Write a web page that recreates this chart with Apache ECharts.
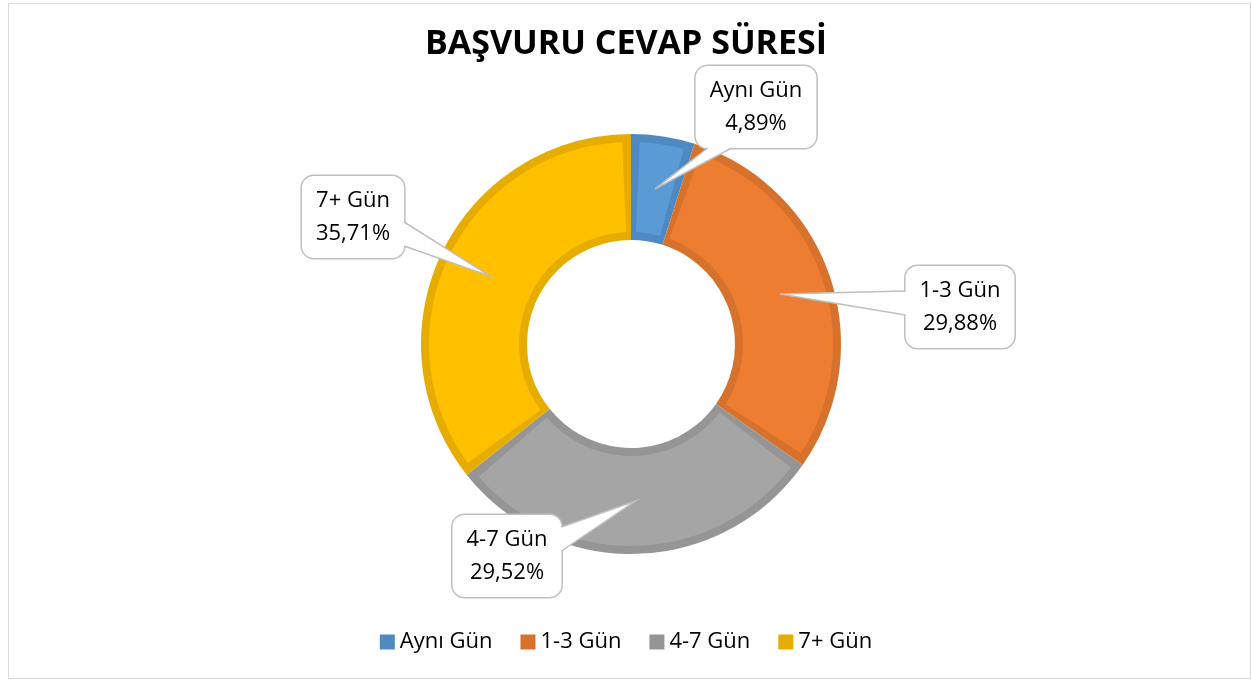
<!DOCTYPE html>
<html>
<head>
<meta charset="utf-8">
<script src="https://cdn.jsdelivr.net/npm/echarts@6/dist/echarts.min.js"></script>
<style>
html, body { margin: 0; padding: 0; background: #fff; }
#chart { width: 1252px; height: 680px; }
</style>
</head>
<body>
<div id="chart"></div>
<script>
// başvuru cevap süresi dağılımı (%)
var categories = ['Aynı Gün', '1-3 Gün', '4-7 Gün', '7+ Gün'];
var shares = [4.89, 29.88, 29.52, 35.71];

var fillColors = ['#5B9BD5', '#ED7D31', '#A5A5A5', '#FFC000'];
var edgeColors = ['#4F89C2', '#D6722C', '#959595', '#E6AD00'];
// callout kutularının merkezleri
var calloutSpots = [[756, 107], [960, 307], [507, 556], [353, 217]];

var chart = echarts.init(document.getElementById('chart'), null, {renderer: 'canvas'});
var FONT = 'Open Sans';
var CX = 631, CY = 344, R_IN = 104, R_OUT = 210;
var LABEL_SIZE = 22, LINE_H = 33, PAD_T = 10, PAD_B = 6, PAD_H = 14;

function pct(v) {
    return v.toFixed(2).replace('.', ',') + '%';
}

// yazı genişliği ölçümü (callout kutusunun boyutu için)
var ctx = document.createElement('canvas').getContext('2d');
ctx.font = LABEL_SIZE + 'px "' + FONT + '"';
function boxSize(i) {
    var w = Math.max(ctx.measureText(categories[i]).width, ctx.measureText(pct(shares[i])).width);
    return [w + PAD_H * 2, LINE_H * 2 + PAD_T + PAD_B];
}

// dilim ortası: halkanın ortasında, orta açıda
var total = shares.reduce(function (a, b) { return a + b; }, 0);
function tipOf(i) {
    var cum = 0;
    for (var k = 0; k < i; k++) cum += shares[k];
    var a = (cum + shares[i] / 2) / total * Math.PI * 2;
    var r = (R_IN + R_OUT) / 2;
    return [CX + r * Math.sin(a), CY - r * Math.cos(a)];
}

function clamp(v, lo, hi) { return Math.max(lo, Math.min(hi, v)); }

// callout ucu (üçgen)
var wedges = [];
for (var i = 0; i < categories.length; i++) {
    var c = calloutSpots[i], tip = tipOf(i), sz = boxSize(i);
    var hw = sz[0] / 2, hh = sz[1] / 2, half = 12, rr = 12;
    var dx = tip[0] - c[0], dy = tip[1] - c[1];
    var tx = hw / Math.abs(dx), ty = hh / Math.abs(dy);
    var b1, b2, p1, p2;
    if (tx < ty) {
        var ex = c[0] + (dx > 0 ? hw : -hw);
        var ey = clamp(c[1] + dy * tx, c[1] - hh + rr + half, c[1] + hh - rr - half);
        var inw = dx > 0 ? -3 : 3;
        b1 = [ex, ey - half]; b2 = [ex, ey + half];
        p1 = [ex + inw, ey - half]; p2 = [ex + inw, ey + half];
    } else {
        var ey2 = c[1] + (dy > 0 ? hh : -hh);
        var ex2 = clamp(c[0] + dx * ty, c[0] - hw + rr + half, c[0] + hw - rr - half);
        var inh = dy > 0 ? -3 : 3;
        b1 = [ex2 - half, ey2]; b2 = [ex2 + half, ey2];
        p1 = [ex2 - half, ey2 + inh]; p2 = [ex2 + half, ey2 + inh];
    }
    wedges.push({
        type: 'polygon', silent: true, z: 50,
        shape: {points: [p1, b1, tip, b2, p2]},
        style: {fill: '#fff', stroke: null}
    });
    wedges.push({
        type: 'polyline', silent: true, z: 51,
        shape: {points: [b1, tip, b2]},
        style: {fill: null, stroke: '#BFBFBF', lineWidth: 1.5}
    });
}

var outerData = [], innerData = [], legendData = [];
for (var j = 0; j < categories.length; j++) {
    outerData.push({name: categories[j], value: shares[j], itemStyle: {color: edgeColors[j]}});
    innerData.push({name: categories[j], value: shares[j], itemStyle: {color: fillColors[j]}});
    legendData.push({name: categories[j], itemStyle: {color: edgeColors[j]}});
}

var option = {
    animation: false,
    backgroundColor: '#fff',
    graphic: [{
        type: 'rect',
        silent: true,
        z: -10,
        shape: {x: 8.5, y: 3.5, width: 1242, height: 675},
        style: {fill: null, stroke: '#D9D9D9', lineWidth: 1}
    }].concat(wedges),
    title: {
        text: 'BAŞVURU CEVAP SÜRESİ',
        left: 'center',
        top: 22,
        textStyle: {fontFamily: FONT, fontSize: 34, fontWeight: 'bold', color: '#000'}
    },
    legend: {
        data: legendData,
        bottom: 22,
        left: 'center',
        icon: 'rect',
        itemWidth: 15,
        itemHeight: 15,
        itemGap: 28,
        textStyle: {fontFamily: FONT, fontSize: 22, color: '#000'}
    },
    series: [
        {
            // koyu kenar bandı
            type: 'pie',
            center: [CX, CY],
            radius: [R_IN, R_OUT],
            silent: true,
            label: {show: false},
            labelLine: {show: false},
            data: outerData
        },
        {
            type: 'pie',
            center: [CX, CY],
            radius: [R_IN + 8, R_OUT - 8],
            padAngle: 5,
            silent: true,
            data: innerData,
            label: {
                show: true,
                position: 'outside',
                formatter: function (p) {
                    return p.name + '\n' + pct(p.value);
                },
                fontFamily: FONT,
                fontSize: LABEL_SIZE,
                lineHeight: LINE_H,
                color: '#000',
                align: 'center',
                backgroundColor: '#fff',
                borderColor: '#BFBFBF',
                borderWidth: 1.5,
                borderRadius: 12,
                padding: [PAD_T, PAD_H, PAD_B, PAD_H]
            },
            labelLine: {show: false},
            labelLayout: function (params) {
                var s = calloutSpots[params.dataIndex];
                return {x: s[0], y: s[1], align: 'center', verticalAlign: 'middle'};
            }
        }
    ]
};
chart.setOption(option);
</script>
</body>
</html>
